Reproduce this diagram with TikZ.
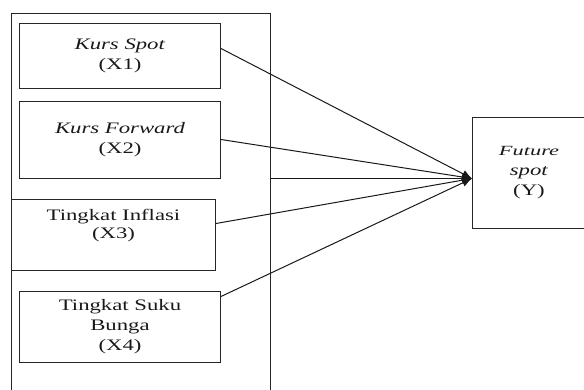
\documentclass[tikz,border=0pt]{standalone}
\usepackage{fontspec}
\setmainfont{Liberation Serif}[FakeStretch=1.42]
\newfontfamily\widefont{Liberation Serif}[FakeStretch=1.6]
\usetikzlibrary{arrows.meta,calc}
\begin{document}
\begin{tikzpicture}[x=1pt,y=-1pt,
  box/.style={draw=black!85,line width=1pt,inner sep=0pt,anchor=north west,align=center,text=black!90},
  conn/.style={draw=black!90,line width=1pt,-{Latex[length=10pt,width=8pt]}},
  every node/.style={font=\fontsize{16}{20}\selectfont}]
\useasboundingbox (0,0) rectangle (584,390);
\clip (0,0) rectangle (584,390);
\node[box,minimum width=259,minimum height=400] (outer) at (11,13) {};
\node[box,minimum width=201,minimum height=65] (x1) at (19,23)
  {\fontsize{16}{21}\selectfont\textit{Kurs Spot}\\(X1)};
\node[box,minimum width=201,minimum height=77] (x2) at (19,101)
  {\fontsize{16}{20}\selectfont\textit{Kurs Forward}\\(X2)};
\node[box,minimum width=204,minimum height=71] (x3) at (11,199)
  {\parbox[c][52pt][t]{200pt}{\centering\fontsize{16}{18}\selectfont Tingkat Inflasi\\(X3)}};
\node[box,minimum width=201,minimum height=71] (x4) at (19,291)
  {\fontsize{16}{18.5}\selectfont Tingkat Suku\\Bunga\\(X4)};
\node[box,minimum width=113,minimum height=111] (ybox) at (472,117)
  {\widefont\fontsize{14}{14.5}\selectfont\textit{Future}\\\textit{spot}\\(Y)};
\coordinate (tip) at ([yshift=-5.5pt]ybox.west);
\coordinate (s1) at ([yshift=7.5pt]x1.east);
\coordinate (s2) at ([yshift=0.5pt]x2.east);
\coordinate (s3) at ([yshift=11.5pt]x3.east);
\coordinate (s4) at ([yshift=30.5pt]x4.east);
\coordinate (s0) at (outer.east |- tip);
\draw[conn] (s1) -- (tip);
\draw[conn] (s2) -- (tip);
\draw[conn] (s3) -- (tip);
\draw[conn] (s4) -- (tip);
\draw[conn] (s0) -- (tip);
\end{tikzpicture}
\end{document}
